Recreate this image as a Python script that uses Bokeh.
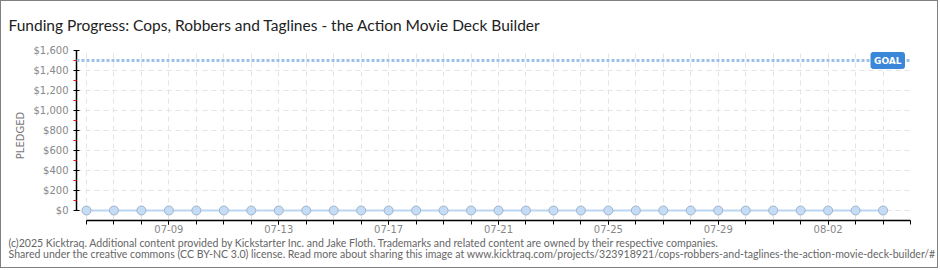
import pandas as pd
from bokeh.plotting import figure
from bokeh.models import (ColumnDataSource, FixedTicker, DatetimeTickFormatter,
                          NumeralTickFormatter, Label, Span, Title)
from bokeh.embed import file_html
from bokeh.resources import INLINE

# ---- data ----
dates = pd.date_range("2025-07-06", "2025-08-04", freq="D")
pledged = [0] * len(dates)
goal = 1500
label_dates = ["2025-07-09", "2025-07-13", "2025-07-17", "2025-07-21",
               "2025-07-25", "2025-07-29", "2025-08-02"]
y_ticks = [0, 200, 400, 600, 800, 1000, 1200, 1400, 1600]
y_minor = [100, 300, 500, 700, 900, 1100, 1300, 1500]
title_text = "Funding Progress: Cops, Robbers and Taglines - the Action Movie Deck Builder"
footer1 = ("(c)2025 Kicktraq. Additional content provided by Kickstarter Inc. and Jake Floth. "
           "Trademarks and related content are owned by their respective companies.")
footer2 = ("Shared under the creative commons (CC BY-NC 3.0) license. Read more about sharing this image at "
           "www.kicktraq.com/projects/323918921/cops-robbers-and-taglines-the-action-movie-deck-builder/#")

DAY = 86400000.0
def ms(d):
    return pd.Timestamp(d).value / 1e6

x_ms = [ms(d) for d in dates]
all_days = [ms(d) for d in pd.date_range("2025-07-06", "2025-08-05", freq="D")]
label_ms = [ms(d) for d in label_dates]

src = ColumnDataSource(dict(x=x_ms, y=pledged))

p = figure(width=938, height=268, output_backend="svg", toolbar_location=None,
           x_axis_type="datetime",
           x_range=(x_ms[0] - 0.3636 * DAY, all_days[-1]),
           y_range=(-100, 1600),
           min_border_left=75, min_border_right=29, min_border_top=49, min_border_bottom=49)
p.styles = {"border": "1px solid #808080"}
p.outline_line_color = None
p.background_fill_color = "white"
p.border_fill_color = "white"

# title
p.title.text = title_text
p.title.align = "left"
p.title.vertical_align = "top"
p.title.text_font = "Lato"
p.title.text_font_size = "15.5px"
p.title.text_font_style = "normal"
p.title.text_color = "#222222"
p.title.offset = -68
p.title.standoff = 29

# grids
p.xgrid.ticker = FixedTicker(ticks=all_days)
p.ygrid.ticker = FixedTicker(ticks=y_ticks)
for g in (p.xgrid, p.ygrid):
    g.grid_line_color = "#e4e4e4"
    g.grid_line_dash = "5 4"
    g.grid_line_width = 1

# x axis
xa = p.xaxis[0]
xa.ticker = FixedTicker(ticks=label_ms, minor_ticks=all_days)
xa.formatter = DatetimeTickFormatter(days="%m-%d", months="%m-%d")
xa.bounds = (all_days[0], all_days[-1])
xa.axis_line_color = "black"
xa.axis_line_width = 1.5
xa.major_tick_line_color = "black"
xa.minor_tick_line_color = "black"
xa.major_tick_in = 0
xa.major_tick_out = 4
xa.minor_tick_in = 0
xa.minor_tick_out = 4
xa.major_label_text_color = "#888888"
xa.major_label_text_font = "DejaVu Sans"
xa.major_label_text_font_size = "10px"
xa.major_label_standoff = 0

# y axis
ya = p.yaxis[0]
ya.ticker = FixedTicker(ticks=y_ticks, minor_ticks=y_minor)
ya.formatter = NumeralTickFormatter(format="$0,0")
ya.bounds = (0, 1600)
ya.axis_line_color = "black"
ya.axis_line_width = 1.5
ya.major_tick_line_color = "black"
ya.major_tick_in = 3
ya.major_tick_out = 3
ya.minor_tick_line_color = "red"
ya.minor_tick_in = 0
ya.minor_tick_out = 3
ya.major_label_text_color = "#888888"
ya.major_label_text_font = "DejaVu Sans"
ya.major_label_text_font_size = "10px"
ya.major_label_standoff = 5
ya.axis_label = "PLEDGED"
ya.axis_label_text_color = "#777777"
ya.axis_label_text_font = "DejaVu Sans"
ya.axis_label_text_font_size = "10px"
ya.axis_label_text_font_style = "normal"
ya.axis_label_standoff = 5

# goal line
goal_line = Span(location=goal, dimension="width", line_color="#9dc0e8",
                 line_width=3, line_dash="3 2")
p.add_layout(goal_line)
p.add_layout(Label(x=all_days[-1], y=goal, x_offset=-6, text="GOAL",
                   text_align="right", text_baseline="middle",
                   text_color="white", text_font="DejaVu Sans", text_font_size="9px",
                   text_font_style="bold",
                   background_fill_color="#3a86d8", border_line_color="#3a86d8",
                   padding=3, border_radius=2))

# series
p.line("x", "y", source=src, line_color="#bcd5f0", line_width=2)
p.scatter("x", "y", source=src, size=9, fill_color="#c4dcf6", line_color="#9fb3c8",
          line_width=1)

# footer
for txt, so in ((footer1, -2), (footer2, -3)):
    t = Title(text=txt, align="left", offset=-68, standoff=so,
              text_font="Lato", text_font_size="10.55px",
              text_font_style="normal", text_color="#666666")
    p.add_layout(t, "below")

open("out.html", "w").write(file_html(p, INLINE))
